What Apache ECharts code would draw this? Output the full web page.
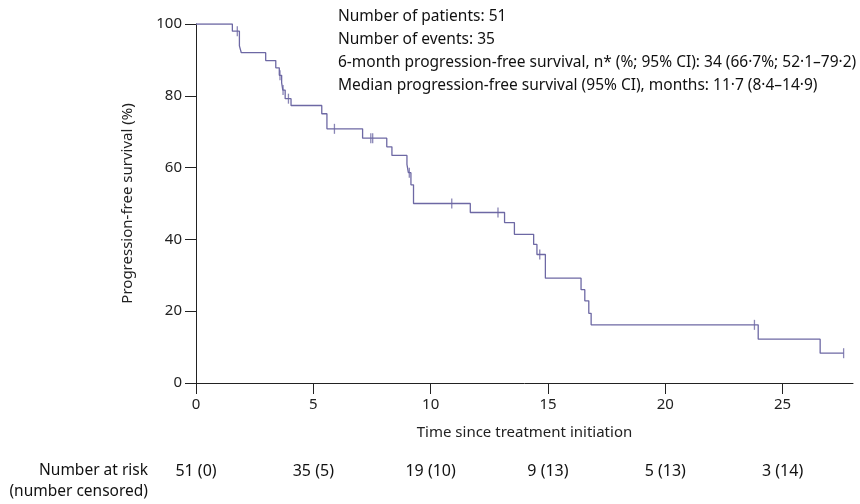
<!DOCTYPE html>
<html>
<head>
<meta charset="utf-8">
<script src="https://cdn.jsdelivr.net/npm/echarts@6/dist/echarts.min.js"></script>
<style>
html,body{margin:0;padding:0;background:#fff;}
#chart{width:860px;height:504px;}
</style>
</head>
<body>
<div id="chart"></div>
<script>
// Kaplan-Meier step points (time in months, survival %)
const stepTimes = [0, 1.55, 1.85, 1.93, 2.97, 3.40, 3.55, 3.65, 3.70, 3.80, 4.05, 5.36, 5.58, 7.10, 8.13, 8.35, 8.99, 9.05, 9.16, 9.27, 11.69, 13.15, 13.57, 14.39, 14.53, 14.89, 16.41, 16.57, 16.74, 16.84, 23.96, 26.60, 27.60];
const stepSurv  = [100, 98.0, 93.9, 92.0, 89.8, 87.8, 85.7, 83.6, 81.6, 79.2, 77.3, 75.0, 70.8, 68.2, 65.8, 63.4, 60.9, 58.6, 55.2, 50.0, 47.5, 44.7, 41.4, 38.6, 35.8, 29.2, 26.0, 22.9, 19.4, 16.2, 12.2, 8.3, 8.3];
// Censored observations
const censorTimes = [1.76, 3.58, 3.71, 3.94, 5.9, 7.45, 7.53, 9.09, 10.9, 12.87, 14.65, 23.8, 27.6];
const censorSurv  = [98.0, 85.7, 81.6, 79.2, 70.8, 68.2, 68.2, 58.6, 50.0, 47.5, 35.8, 16.2, 8.3];
// Axis ticks
const xTicks = [0, 5, 10, 15, 20, 25];
const yTicks = [0, 20, 40, 60, 80, 100];
// Number at risk table
const riskTimes  = [0, 5, 10, 15, 20, 25];
const riskLabels = ['51 (0)', '35 (5)', '19 (10)', '9 (13)', '5 (13)', '3 (14)'];
// Annotation lines
const infoLines = [
  'Number of patients: 51',
  'Number of events: 35',
  '6-month progression-free survival, n* (%; 95% CI): 34 (66·7%; 52·1–79·2)',
  'Median progression-free survival (95% CI), months: 11·7 (8·4–14·9)'
];

const FONT = '"Noto Sans", "Open Sans", sans-serif';
const LINE = '#6d68a4';
const AX = '#222';

const chart = echarts.init(document.getElementById('chart'), null, {renderer: 'canvas'});

const option = {
  animation: false,
  backgroundColor: '#fff',
  grid: {left: 196, top: 24, right: 7, bottom: 121, containLabel: false},
  xAxis: {
    type: 'value', min: 0, max: 28, interval: 5,
    name: 'Time since treatment initiation', nameLocation: 'middle', nameGap: 42,
    nameTextStyle: {fontFamily: FONT, fontSize: 15, color: AX},
    axisLine: {lineStyle: {color: AX, width: 1}},
    axisTick: {show: true, length: 11, inside: false, lineStyle: {color: AX}, customValues: xTicks},
    axisLabel: {fontFamily: FONT, fontSize: 15, color: AX, margin: 14, customValues: xTicks},
    splitLine: {show: false}
  },
  yAxis: {
    type: 'value', min: 0, max: 100, interval: 20,
    name: 'Progression-free survival (%)', nameLocation: 'middle', nameGap: 61, nameRotate: 90,
    nameTextStyle: {fontFamily: FONT, fontSize: 15, color: AX},
    axisLine: {show: true, lineStyle: {color: AX, width: 1}},
    axisTick: {show: true, length: 11, inside: false, lineStyle: {color: AX}, customValues: yTicks},
    axisLabel: {fontFamily: FONT, fontSize: 15, color: AX, margin: 14, customValues: yTicks},
    splitLine: {show: false}
  },
  series: [
    {
      type: 'line', step: 'end', symbol: 'none',
      data: stepTimes.map((t, i) => [t, stepSurv[i]]),
      lineStyle: {color: LINE, width: 1.3},
      z: 2
    },
    {
      type: 'scatter', symbol: 'rect', symbolSize: [1.3, 10],
      data: censorTimes.map((t, i) => [t, censorSurv[i]]),
      itemStyle: {color: LINE},
      z: 3
    }
  ]
};
chart.setOption(option);

const graphics = [];
infoLines.forEach((s, i) => {
  graphics.push({
    type: 'text', x: 338, y: 17 + i * 22.7,
    style: {text: s, fontFamily: FONT, fontSize: 15.5, fill: '#111', align: 'left', verticalAlign: 'middle'}
  });
});
graphics.push({
  type: 'text', x: 148, y: 471,
  style: {text: 'Number at risk', fontFamily: FONT, fontSize: 15.5, fill: '#111', align: 'right', verticalAlign: 'middle'}
});
graphics.push({
  type: 'text', x: 148, y: 492,
  style: {text: '(number censored)', fontFamily: FONT, fontSize: 15.5, fill: '#111', align: 'right', verticalAlign: 'middle'}
});
riskTimes.forEach((t, i) => {
  const px = chart.convertToPixel({xAxisIndex: 0}, t);
  graphics.push({
    type: 'text', x: px, y: 471,
    style: {text: riskLabels[i], fontFamily: FONT, fontSize: 16, fill: '#111', align: 'center', verticalAlign: 'middle'}
  });
});
chart.setOption({graphic: graphics});
</script>
</body>
</html>
